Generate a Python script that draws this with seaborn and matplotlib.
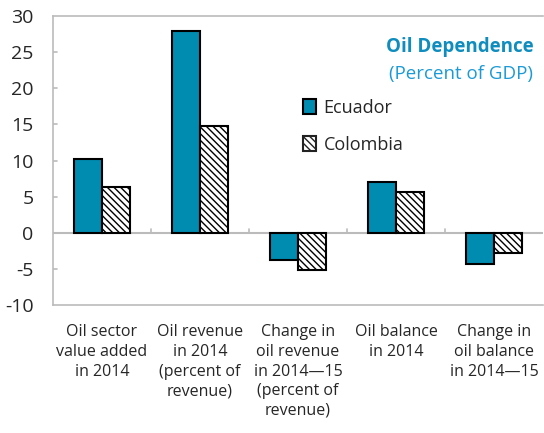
import pandas as pd
import matplotlib
matplotlib.use("Agg")
import matplotlib.pyplot as plt
import seaborn as sns
from matplotlib.patches import Patch

# values (percent of GDP)
categories = [
    "Oil sector\nvalue added\nin 2014",
    "Oil revenue\nin 2014\n(percent of\nrevenue)",
    "Change in\noil revenue\nin 2014\u201415\n(percent of\nrevenue)",
    "Oil balance\nin 2014",
    "Change in\noil balance\nin 2014\u201415",
]
ecuador = [10.2, 28.0, -3.8, 7.1, -4.3]
colombia = [6.4, 14.8, -5.1, 5.6, -2.8]
countries = ["Ecuador", "Colombia"]
yticks = [-10, -5, 0, 5, 10, 15, 20, 25, 30]

df = pd.DataFrame({
    "category": categories * 2,
    "value": ecuador + colombia,
    "country": ["Ecuador"] * len(categories) + ["Colombia"] * len(categories),
})

sns.set_style("white")
plt.rcParams["font.family"] = ["Open Sans", "DejaVu Sans"]
plt.rcParams["hatch.linewidth"] = 1.0

teal = "#008BB0"
hatch_pat = "\\\\\\\\\\"
fig = plt.figure(figsize=(5.44, 4.33), dpi=100)
ax = fig.add_axes([0.0974, 0.2956, 0.901, 0.667])

sns.barplot(data=df, x="category", y="value", hue="country",
            palette={"Ecuador": teal, "Colombia": "white"}, saturation=1,
            width=0.575, edgecolor="black", linewidth=1.5,
            legend=False, ax=ax)

# hatch the Colombia bars (gray hatch, black outline)
for bar in ax.patches[len(categories):]:
    bar.set_hatch(hatch_pat)
    if hasattr(bar, "set_hatchcolor"):
        bar.set_hatchcolor("#555555")

ax.set_xlim(-0.5, 4.5)
ax.set_ylim(-10, 30)
ax.set_yticks(yticks)
ax.set_yticklabels([str(t) for t in yticks], fontsize=14)
ax.set_xticks(range(len(categories)))
ax.set_xticklabels(categories, fontsize=11.5, linespacing=1.3)
ax.tick_params(axis="x", length=0, pad=14)
ax.tick_params(axis="y", length=0, pad=14)
ax.set_xlabel("")
ax.set_ylabel("")

for side in ["left", "top", "bottom"]:
    ax.spines[side].set_color("#BBBBBB")
    ax.spines[side].set_linewidth(1.2)
ax.spines["right"].set_visible(False)

ax.axhline(0, color="#BBBBBB", lw=1.5, zorder=0)
# small category separator ticks on the zero line
for xb in [0.5, 1.5, 2.5, 3.5]:
    ax.plot([xb, xb], [0, 0.5], color="#BBBBBB", lw=1.2)
for yt in yticks[1:-1]:
    ax.plot([-0.5, -0.46], [yt, yt], color="#BBBBBB", lw=1.2)

ax.text(0.98, 0.895, "Oil Dependence", transform=ax.transAxes, ha="right",
        va="center", fontsize=13.5, fontweight="bold", color="#0E8DBE")
ax.text(0.98, 0.80, "(Percent of GDP)", transform=ax.transAxes, ha="right",
        va="center", fontsize=13.5, color="#1A9AD6")

handles = [Patch(facecolor=teal, edgecolor="black", linewidth=1.5),
           Patch(facecolor="white", edgecolor="#222222", hatch=hatch_pat, linewidth=1.5)]
ax.legend(handles, countries, loc="upper left", bbox_to_anchor=(0.51, 0.713),
          frameon=False, fontsize=13, handlelength=0.7, handleheight=0.9,
          handletextpad=0.45, labelspacing=1.05, borderpad=0.0, borderaxespad=0.0)

fig.savefig("out.png", dpi=100)
